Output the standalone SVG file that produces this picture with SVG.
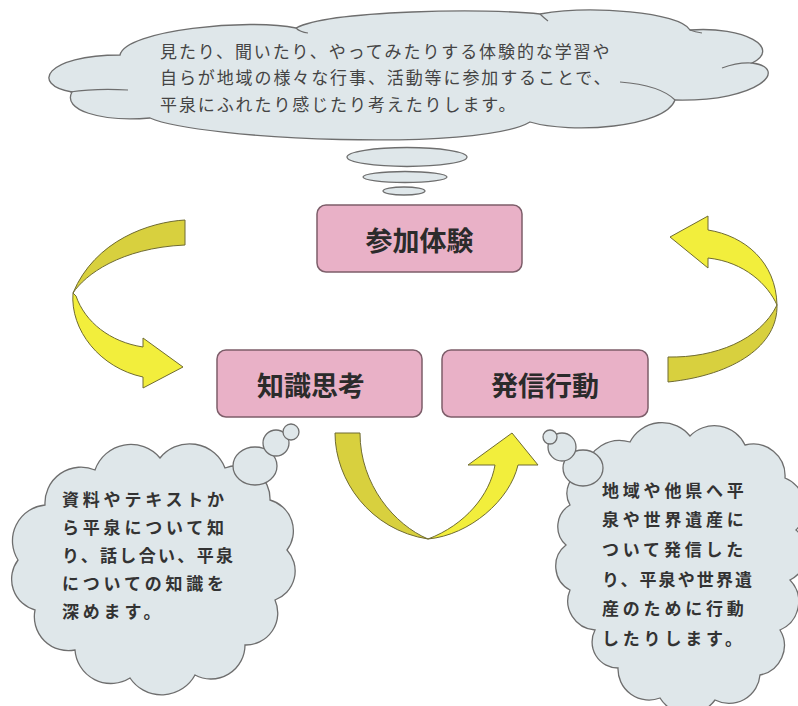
<svg xmlns="http://www.w3.org/2000/svg" width="798" height="706" viewBox="0 0 798 706">
<style>
.cloud{fill:#dfe7ea;stroke:#6e6e6e;stroke-width:1.3}
.inner{fill:none;stroke:#6e6e6e;stroke-width:1.2}
.box{fill:#e9b1c7;stroke:#7d5e6a;stroke-width:1.5}
.lbl{font-family:"Noto Sans CJK JP","Noto Sans",sans-serif;font-weight:bold;font-size:27px;fill:#2b2b2b;text-anchor:middle;dominant-baseline:central}
.top{font-family:"Noto Sans CJK JP",sans-serif;font-size:17px;fill:#444;letter-spacing:1.9px;dominant-baseline:central}
.ct{font-family:"Noto Sans CJK JP",sans-serif;font-weight:bold;font-size:17px;fill:#333;letter-spacing:3.8px;dominant-baseline:central}
.yb{fill:#f2ee3c;stroke:#6f6b32;stroke-width:1}
.yd{fill:#d8d03e;stroke:#6f6b32;stroke-width:1}
</style>
<rect width="798" height="706" fill="#ffffff"/>

<g id="cloud-top">
<path class="cloud" d="M120,55 C125,30 250,18 296,28 C330,10 490,8 540,14 C590,5 680,12 690,30 C745,26 782,48 752,63 C790,68 760,102 675,100 C665,128 570,134 530,122 C480,152 200,140 150,118 C100,122 62,110 72,92 C30,85 45,55 120,55 Z"/>
<path class="inner" d="M70,92 C90,89 110,89 128,90 M620,82 C645,84 665,90 675,100 M722,68 Q738,62 752,63 M296,28 Q300,32 308,33 M540,14 Q544,18 548,21 M690,30 Q695,32 702,33"/>
<text class="top" x="160" y="50">見たり、聞いたり、やってみたりする体験的な学習や</text>
<text class="top" x="160" y="76">自らが地域の様々な行事、活動等に参加することで、</text>
<text class="top" x="160" y="103">平泉にふれたり感じたり考えたりします。</text>
<ellipse class="cloud" cx="407" cy="157" rx="60" ry="9.5"/>
<ellipse class="cloud" cx="405" cy="177" rx="42" ry="5.5"/>
<ellipse class="cloud" cx="404" cy="191" rx="21" ry="4"/>
</g>

<g id="node-sanka">
<rect class="box" x="317" y="205" width="205" height="67" rx="9"/>
<text class="lbl" x="419.5" y="239">参加体験</text>
</g>

<g id="node-chishiki">
<rect class="box" x="217" y="350" width="205" height="67" rx="9"/>
<text class="lbl" x="311" y="384">知識思考</text>
</g>

<g id="node-hasshin">
<rect class="box" x="442" y="350" width="206" height="67" rx="9"/>
<text class="lbl" x="545" y="384">発信行動</text>
</g>

<g id="connectors">
<g id="arrow-left">
<path class="yd" d="M185,220 C150,222 95,240 73,293 C85,275 120,248 185,245 Z"/>
<path class="yb" d="M73,293 C70,330 100,368 143,377 L143,388 L183,367 L143,338 L143,347 C110,342 85,322 76,296 Z"/>
</g>
<g id="arrow-bottom">
<path class="yd" d="M335,433 C335,480 370,530 428,539 C395,525 360,485 360,433 Z"/>
<path class="yb" d="M428,539 C470,535 510,500 518,465 L538,465 L512,433 L468,465 L495,465 C490,495 465,525 428,539 Z"/>
</g>
<g id="arrow-right">
<path class="yb" d="M670,237 L708,216 L708,230 C745,236 776,262 777,305 C768,285 745,262 708,258 L708,268 Z"/>
<path class="yd" d="M777,305 C778,345 735,375 668,382 L668,357 C715,358 760,340 777,305 Z"/>
</g>
</g>

<g id="cloud-chishiki">
<path class="cloud" d="M18,560 A36,36 0 0 1 45,505 A36,36 0 0 1 95,470 A38,38 0 0 1 160,458 A38,38 0 0 1 225,468 A33,33 0 0 1 270,500 A32,32 0 0 1 287,550 A31,31 0 0 1 275,600 A32,32 0 0 1 245,645 A34,34 0 0 1 195,675 A38,38 0 0 1 130,678 A36,36 0 0 1 75,650 A34,34 0 0 1 35,610 A32,32 0 0 1 18,560 Z"/>
<ellipse class="cloud" cx="255" cy="466" rx="22" ry="19"/>
<circle class="cloud" cx="276" cy="443" r="13"/>
<circle class="cloud" cx="291" cy="432" r="8"/>
<text class="ct" x="62" y="498">資料やテキストか</text>
<text class="ct" x="62" y="526">ら平泉について知</text>
<text class="ct" x="62" y="554" textLength="171" lengthAdjust="spacing" style="letter-spacing:0">り、話し合い、平泉</text>
<text class="ct" x="62" y="582">についての知識を</text>
<text class="ct" x="62" y="610">深めます。</text>
</g>

<g id="cloud-hasshin">
<path class="cloud" d="M585,470 A35,35 0 0 1 630,442 A36,36 0 0 1 690,436 A34,34 0 0 1 745,445 A32,32 0 0 1 785,478 A32,32 0 0 1 796,530 A30,30 0 0 1 790,580 A31,31 0 0 1 780,630 A30,30 0 0 1 760,675 A31,31 0 0 1 715,700 A33,33 0 0 1 660,698 A31,31 0 0 1 618,668 A26,26 0 0 1 595,630 A29,29 0 0 1 570,590 A27,27 0 0 1 566,545 A25,25 0 0 1 570,505 A24,24 0 0 1 585,470 Z"/>
<ellipse class="cloud" cx="583" cy="468" rx="20" ry="18"/>
<circle class="cloud" cx="562" cy="447" r="14"/>
<circle class="cloud" cx="550" cy="437" r="7"/>
<text class="ct" x="602" y="489">地域や他県へ平</text>
<text class="ct" x="602" y="518">泉や世界遺産に</text>
<text class="ct" x="602" y="548">ついて発信した</text>
<text class="ct" x="602" y="578" textLength="150" lengthAdjust="spacing" style="letter-spacing:0">り、平泉や世界遺</text>
<text class="ct" x="602" y="607">産のために行動</text>
<text class="ct" x="602" y="637">したりします。</text>
</g>
</svg>
